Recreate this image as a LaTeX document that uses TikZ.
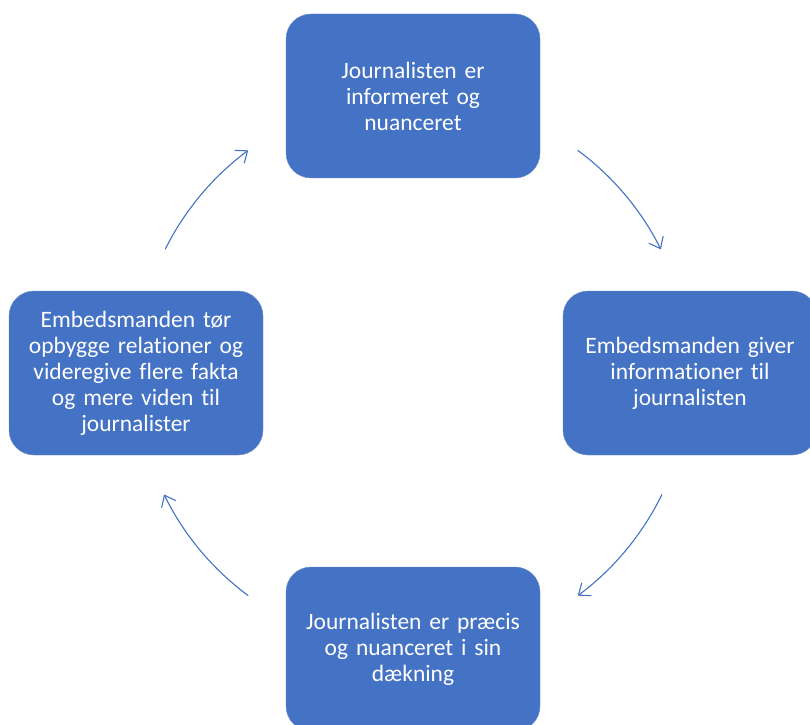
\documentclass[tikz,border=0pt]{standalone}
\usepackage{fontspec}
\setmainfont{Carlito}[Ligatures=NoCommon]
\usetikzlibrary{arrows.meta}
\definecolor{boxblue}{HTML}{4472C4}

\begin{document}
\begin{tikzpicture}[x=1pt,y=1pt,
    stepbox/.style={rectangle, rounded corners=25pt, fill=boxblue, draw=boxblue!80!white,
      minimum width=254pt, minimum height=164pt, text width=240pt, inner sep=0pt,
      align=center, text=white, font=\fontsize{23.5}{26}\selectfont},
    cyclearrow/.style={draw=boxblue, line width=1.1pt, -{Straight Barb[length=10pt,width=16pt]}}]
      \useasboundingbox (0,0) rectangle (810,724);
      \clip (0,0) rectangle (810,724);
      \coordinate (c) at (413,351);
      \node[stepbox] (informeret) at (413,628) {Journalisten er\\ informeret og\\ nuanceret};
      \node[stepbox] (giver) at (690,351) {Embedsmanden giver\\ informationer til\\ journalisten};
      \node[stepbox] (praecis) at (413,75) {Journalisten er præcis\\ og nuanceret i sin\\ dækning};
      \node[stepbox] (relationer) at (136,351) {Embedsmanden tør\\ opbygge relationer og\\ videregive flere fakta\\ og mere viden til\\ journalister};
      % buer mellem kasserne
      \draw[cyclearrow] ([shift={(53.5:277)}]c) arc[start angle=53.5, end angle=26.5, radius=277];
      \draw[cyclearrow] ([shift={(-26:277)}]c) arc[start angle=-26, end angle=-53.5, radius=277];
      \draw[cyclearrow] ([shift={(-126.5:277)}]c) arc[start angle=-126.5, end angle=-154, radius=277];
      \draw[cyclearrow] ([shift={(153.5:277)}]c) arc[start angle=153.5, end angle=126.5, radius=277];
    \end{tikzpicture}
\end{document}
